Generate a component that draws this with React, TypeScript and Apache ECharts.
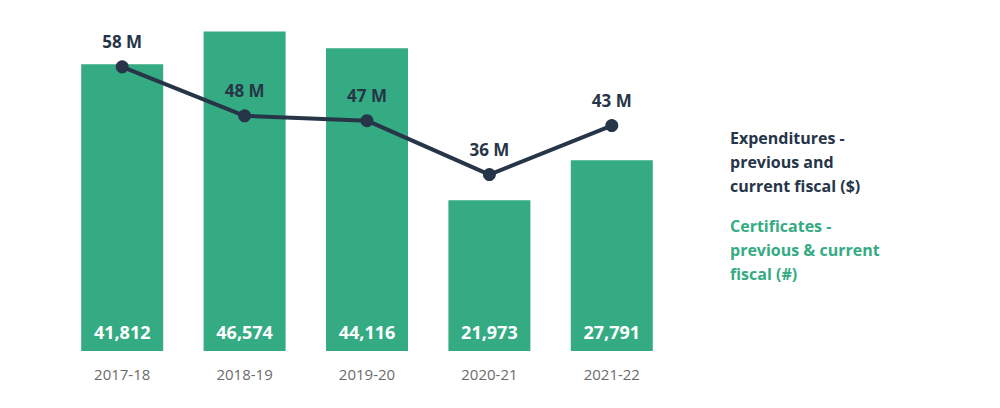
import React, { useEffect, useRef } from 'react';
import * as echarts from 'echarts';

const years = ['2017-18', '2018-19', '2019-20', '2020-21', '2021-22'];
const certificates = [41812, 46574, 44116, 21973, 27791];
// expenditures in millions
const expenditures = [58, 48, 47, 36, 46];
const expenditureLabels = ['58 M', '48 M', '47 M', '36 M', '43 M'];

const legendExpenditures = ['Expenditures -', 'previous and', 'current fiscal ($)'];
const legendCertificates = ['Certificates -', 'previous & current', 'fiscal (#)'];

const GREEN = '#35AB83';
const NAVY = '#263548';
const FONT = '"Open Sans", sans-serif';

export default function App() {
  const chartRef = useRef<HTMLDivElement>(null);

  useEffect(() => {
    if (!chartRef.current) return;
    document.body.style.margin = '0';
    const chart = echarts.init(chartRef.current, undefined, { renderer: 'svg' });

    const option: echarts.EChartsOption = {
      animation: false,
      backgroundColor: '#ffffff',
      textStyle: { fontFamily: FONT },
      grid: { left: 61, right: 327, top: 8, bottom: 57 },
      xAxis: {
        type: 'category',
        data: years,
        axisLine: { show: false },
        axisTick: { show: false },
        axisLabel: { color: '#6b6b6b', fontSize: 15, fontFamily: FONT, margin: 15 },
      },
      yAxis: [
        { type: 'value', min: 0, max: 50000, show: false, splitLine: { show: false } },
        { type: 'value', min: 0, max: 70, show: false, splitLine: { show: false } },
      ],
      graphic: [
        {
          type: 'text',
          left: 730,
          top: 126,
          style: {
            text: legendExpenditures.join('\n'),
            fill: NAVY,
            font: `bold 16px ${FONT}`,
            lineHeight: 24,
          },
        },
        {
          type: 'text',
          left: 730,
          top: 214,
          style: {
            text: legendCertificates.join('\n'),
            fill: GREEN,
            font: `bold 16px ${FONT}`,
            lineHeight: 24,
          },
        },
      ],
      series: [
        {
          name: 'Certificates',
          type: 'bar',
          data: certificates,
          barWidth: 82,
          itemStyle: { color: GREEN },
          label: {
            show: true,
            position: 'insideBottom',
            distance: 10,
            color: '#ffffff',
            fontSize: 18,
            fontWeight: 'bold',
            fontFamily: FONT,
            formatter: (p: any) => Number(p.value).toLocaleString('en-US'),
          },
        },
        {
          name: 'Expenditures',
          type: 'line',
          yAxisIndex: 1,
          data: expenditures,
          symbol: 'circle',
          symbolSize: 13,
          lineStyle: { color: NAVY, width: 4 },
          itemStyle: { color: NAVY },
          label: {
            show: true,
            position: 'top',
            distance: 10,
            color: NAVY,
            fontSize: 17,
            fontWeight: 'bold',
            fontFamily: FONT,
            formatter: (p: any) => expenditureLabels[p.dataIndex],
          },
          z: 5,
        },
      ],
    };

    chart.setOption(option);
    return () => chart.dispose();
  }, []);

  return <div ref={chartRef} style={{ width: 1000, height: 408 }} />;
}
